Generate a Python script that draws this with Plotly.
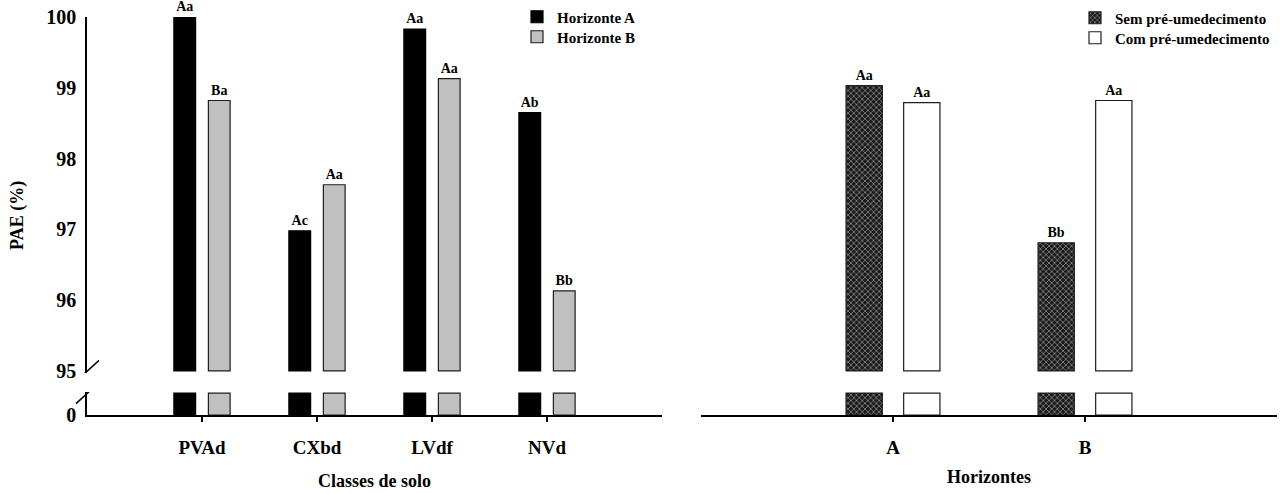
import numpy as np
import plotly.graph_objects as go

# ---------------- data ----------------
solos = ["PVAd", "CXbd", "LVdf", "NVd"]
horiz_a = [100.0, 96.98, 99.83, 98.65]
horiz_b = [98.82, 97.63, 99.13, 96.13]
letras_a = ["Aa", "Ac", "Aa", "Ab"]
letras_b = ["Ba", "Aa", "Aa", "Bb"]

horizontes = ["A", "B"]
sem_pre = [99.03, 96.81]
com_pre = [98.79, 98.82]
letras_sem = ["Aa", "Bb"]
letras_com = ["Aa", "Aa"]

y_ticks_upper = [95, 96, 97, 98, 99, 100]
y_ticks_lower = [0]

BREAK = 95      # bottom of upper (broken) segment
STUB = 1.0      # height of visible lower segment of each bar

# ---------------- geometry ----------------
W, H = 1282, 493
ML, MR, MT, MB = 87, 5, 17, 78
PW, PH = W - ML - MR, H - MT - MB

def px_x(a, b):
    return [(a - ML) / PW, (b - ML) / PW]

def px_y(top, bottom):
    return [(H - MB - bottom) / PH, (H - MB - top) / PH]

def paper_x(px):
    return (px - ML) / PW

def paper_y(py):
    return (H - MB - py) / PH

FONT = "Liberation Serif"
ytickfont = dict(family=FONT, size=20, color="black", weight="bold")
xtickfont = dict(family=FONT, size=19, color="black", weight="bold")
barfont = dict(family=FONT, size=14, color="black", weight="bold")
legfont = dict(family=FONT, size=15, color="black", weight="bold")
titlefont = dict(family=FONT, size=18, color="black", weight="bold")

GRAY = "#c0c0c0"
EDGE = "#1e1e1e"

fig = go.Figure()

def add_pair(xaxis, yup, ylow, cats, vals, labels, name, color, line_color, legend, pattern=None):
    vals = np.asarray(vals, dtype=float)
    marker_up = dict(color=color, line=dict(color=line_color, width=1.2))
    if pattern:
        marker_up["pattern"] = pattern
    fig.add_trace(go.Bar(
        x=cats, y=vals - BREAK, base=BREAK, name=name,
        xaxis=xaxis, yaxis=yup, marker=marker_up,
        text=labels, textposition="outside", textfont=barfont,
        cliponaxis=False, constraintext="none", legend=legend,
        hoverinfo="skip",
    ))
    fig.add_trace(go.Bar(
        x=cats, y=np.minimum(vals, STUB), name=name,
        xaxis=xaxis, yaxis=ylow, marker=marker_up, showlegend=False,
        hoverinfo="skip",
    ))

pat = dict(shape="x", fillmode="replace", bgcolor="#1a1a1a", fgcolor="#8c8c8c",
           size=4, solidity=0.35)

add_pair("x", "y", "y2", solos, horiz_a, letras_a, "Horizonte A", "black", "black", "legend")
add_pair("x", "y", "y2", solos, horiz_b, letras_b, "Horizonte B", GRAY, EDGE, "legend2")
add_pair("x2", "y3", "y4", horizontes, sem_pre, letras_sem, "Sem pré-umedecimento",
         "#1a1a1a", EDGE, "legend3", pattern=pat)
add_pair("x2", "y3", "y4", horizontes, com_pre, letras_com, "Com pré-umedecimento",
         "white", EDGE, "legend4")

upper_dom = px_y(17, 373)
lower_dom = px_y(392, 415)

xcommon = dict(showline=True, linecolor="black", linewidth=2, ticks="outside",
               ticklen=5, tickwidth=1.5, tickcolor="black", tickfont=xtickfont,
               showgrid=False, zeroline=False, ticklabelstandoff=9, fixedrange=True)

def leg(xpx, ypx):
    return dict(x=paper_x(xpx), y=paper_y(ypx), xanchor="left", yanchor="middle",
                font=legfont, bgcolor="rgba(0,0,0,0)")

fig.update_layout(
    width=W, height=H,
    margin=dict(l=ML, r=MR, t=MT, b=MB, autoexpand=False),
    paper_bgcolor="white", plot_bgcolor="white",
    barmode="group", bargap=0.4, bargroupgap=0.37,
    font=dict(family=FONT, color="black"),
    xaxis=dict(domain=px_x(87, 662), anchor="y2", range=[-1, 4], **xcommon),
    xaxis2=dict(domain=px_x(701, 1277), anchor="y4", range=[-1, 2], **xcommon),
    yaxis=dict(domain=upper_dom, anchor="x", range=[BREAK - 0.03, 100],
               tickvals=y_ticks_upper, showline=True, linecolor="black", linewidth=1.5,
               ticks="", tickfont=ytickfont, showgrid=False, zeroline=False,
               ticklabelstandoff=5, fixedrange=True),
    yaxis2=dict(domain=lower_dom, anchor="x", range=[0, STUB * 1.05],
                tickvals=y_ticks_lower, showline=True, linecolor="black", linewidth=1.5,
                ticks="", tickfont=ytickfont, showgrid=False, zeroline=False,
                ticklabelstandoff=5, fixedrange=True),
    yaxis3=dict(domain=upper_dom, anchor="x2", range=[BREAK - 0.03, 100],
                visible=False, fixedrange=True),
    yaxis4=dict(domain=lower_dom, anchor="x2", range=[0, STUB * 1.05],
                visible=False, fixedrange=True),
    legend=leg(517, 17),
    legend2=leg(517, 37),
    legend3=leg(1075, 18),
    legend4=leg(1075, 38),
    showlegend=True,
    hovermode=False,
)

# axis titles
fig.add_annotation(text="PAE (%)", textangle=-90, xref="paper", yref="paper",
                   x=paper_x(17), y=paper_y(216), xanchor="center", yanchor="middle",
                   showarrow=False, font=titlefont)
fig.add_annotation(text="Classes de solo", xref="x domain", yref="paper",
                   x=0.5, y=paper_y(481), xanchor="center", yanchor="middle",
                   showarrow=False, font=titlefont)
fig.add_annotation(text="Horizontes", xref="x2 domain", yref="paper",
                   x=0.5, y=paper_y(477), xanchor="center", yanchor="middle",
                   showarrow=False, font=titlefont)

# axis-break marks on the left y axis
for yref, yanchor in (("y", BREAK), ("y2", STUB)):
    fig.add_shape(type="line", xref="paper", yref=yref, xsizemode="pixel",
                  ysizemode="pixel", xanchor=0, yanchor=yanchor,
                  x0=-11, x1=12, y0=-10.5, y1=10.5,
                  line=dict(color="black", width=1.5))

fig.write_html("out.html", config={"displayModeBar": False},
               post_script="document.body.style.margin='0px';")
